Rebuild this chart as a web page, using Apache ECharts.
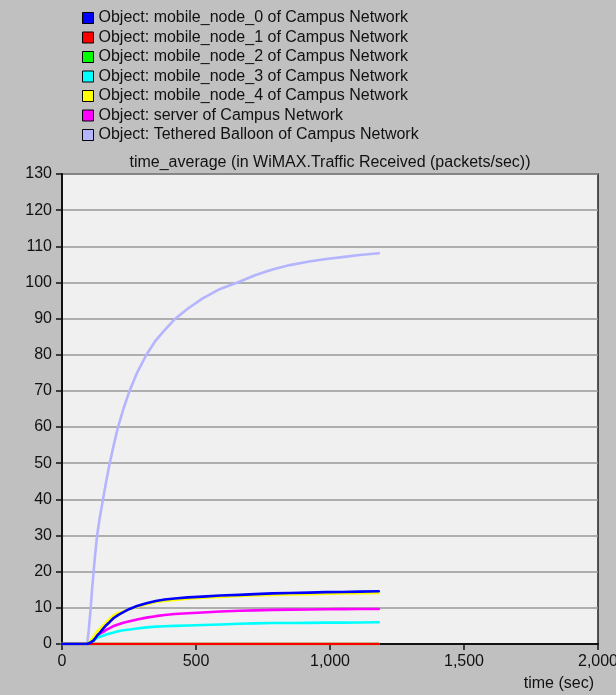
<!DOCTYPE html>
<html>
<head>
<meta charset="utf-8">
<script src="https://cdn.jsdelivr.net/npm/echarts@6/dist/echarts.min.js"></script>
<style>
html,body{margin:0;padding:0;background:#c0c0c0;}
#chart{width:616px;height:695px;}
</style>
</head>
<body>
<div id="chart"></div>
<script>
var seriesNames = [
  'Object: mobile_node_0 of Campus Network',
  'Object: mobile_node_1 of Campus Network',
  'Object: mobile_node_2 of Campus Network',
  'Object: mobile_node_3 of Campus Network',
  'Object: mobile_node_4 of Campus Network',
  'Object: server of Campus Network',
  'Object: Tethered Balloon of Campus Network'
];
var seriesColors = ['#0000ff', '#ff0000', '#00ff00', '#00ffff', '#ffff00', '#ff00ff', '#b4b4ff'];
var times   = [0, 94, 100, 107, 112, 118, 124, 131, 141, 153, 165, 178, 193, 209, 229, 252, 280, 315, 350, 383, 420, 470, 525, 590, 662, 720, 785, 850, 922, 985, 1046, 1110, 1182];
var node0   = [0, 0, 0.1, 0.4, 0.7, 1.0, 1.6, 2.3, 3.1, 4.2, 5.2, 6.1, 7.2, 8.0, 8.8, 9.7, 10.5, 11.3, 11.9, 12.3, 12.6, 12.9, 13.1, 13.4, 13.6, 13.8, 14.0, 14.1, 14.2, 14.35, 14.4, 14.5, 14.6];
var node1   = [0, 0, 0, 0, 0, 0, 0, 0, 0, 0, 0, 0, 0, 0, 0, 0, 0, 0, 0, 0, 0, 0, 0, 0, 0, 0, 0, 0, 0, 0, 0, 0, 0];
var node2   = [0, 0, 0, 0, 0, 0, 0, 0, 0, 0, 0, 0, 0, 0, 0, 0, 0, 0, 0, 0, 0, 0, 0, 0, 0, 0, 0, 0, 0, 0, 0, 0, 0];
var node3   = [0, 0, 0.3, 0.5, 0.7, 0.9, 1.3, 1.7, 2.0, 2.3, 2.6, 2.9, 3.2, 3.5, 3.8, 4.0, 4.3, 4.6, 4.8, 4.9, 5.0, 5.1, 5.25, 5.4, 5.6, 5.7, 5.8, 5.8, 5.85, 5.9, 5.9, 5.95, 6.0];
var node4   = [0, 0, 0.5, 1.1, 1.5, 2.0, 2.7, 3.4, 4.2, 5.1, 6.0, 6.9, 7.9, 8.6, 9.0, 9.6, 10.3, 11.0, 11.6, 11.9, 12.2, 12.5, 12.8, 13.0, 13.3, 13.4, 13.6, 13.7, 13.8, 13.9, 14.0, 14.05, 14.1];
var server  = [0, 0, 0.4, 0.8, 1.1, 1.4, 1.9, 2.4, 2.9, 3.3, 3.9, 4.4, 5.0, 5.4, 5.9, 6.3, 6.8, 7.3, 7.7, 8.0, 8.3, 8.5, 8.7, 9.0, 9.2, 9.3, 9.45, 9.5, 9.55, 9.6, 9.65, 9.7, 9.7];
var balloon = [0, 0, 4, 10, 15, 20, 25, 30, 35, 40, 45, 50, 55, 60, 65, 70, 75, 80, 84, 86.8, 89.8, 92.8, 95.6, 98.2, 100.2, 102, 103.6, 104.8, 105.8, 106.5, 107.0, 107.6, 108.1];
var allValues = [node0, node1, node2, node3, node4, server, balloon];
var yTicks = [0, 10, 20, 30, 40, 50, 60, 70, 80, 90, 100, 110, 120, 130];
var xTicks = [0, 500, 1000, 1500, 2000];
var titleText = 'time_average (in WiMAX.Traffic Received (packets/sec))';
var xAxisTitle = 'time (sec)';

var FONT = '"Liberation Sans", Arial, sans-serif';
var chart = echarts.init(document.getElementById('chart'));
var series = allValues.map(function (vals, i) {
  return {
    name: seriesNames[i],
    type: 'line',
    data: times.map(function (t, k) { return [t, vals[k]]; }),
    showSymbol: false,
    smooth: false,
    z: 20 - i,
    color: seriesColors[i],
    lineStyle: { width: 2.6, color: seriesColors[i], join: 'round', cap: 'round' },
    animation: false
  };
});

chart.setOption({
  backgroundColor: '#c0c0c0',
  animation: false,
  legend: {
    orient: 'vertical',
    left: 77,
    top: 5,
    icon: 'rect',
    itemWidth: 11,
    itemHeight: 11,
    itemGap: 3.5,
    itemStyle: { borderColor: '#000', borderWidth: 1 },
    textStyle: { fontFamily: FONT, fontSize: 16, color: '#111', lineHeight: 16 },
    selectedMode: false,
    data: seriesNames
  },
  grid: {
    left: 62, right: 18, top: 174, bottom: 51,
    outerBoundsMode: 'none',
    containLabel: false,
    show: true, backgroundColor: '#f0f0f0', borderColor: '#222', borderWidth: 1.5
  },
  xAxis: {
    type: 'value', min: xTicks[0], max: xTicks[xTicks.length - 1], interval: 500,
    axisLine: { lineStyle: { color: '#111', width: 2 } },
    axisTick: { show: true, length: 6, lineStyle: { color: '#111', width: 1.5 } },
    axisLabel: {
      margin: 10, fontFamily: FONT, fontSize: 16, color: '#111',
      formatter: function (v) { return v.toLocaleString('en-US'); }
    },
    splitLine: { show: false }
  },
  yAxis: {
    type: 'value', min: yTicks[0], max: yTicks[yTicks.length - 1], interval: 10,
    axisLine: { show: true, lineStyle: { color: '#111', width: 2 } },
    axisTick: { show: true, length: 6, lineStyle: { color: '#111', width: 1.5 } },
    axisLabel: { margin: 10, fontFamily: FONT, fontSize: 16, color: '#111' },
    splitLine: { show: true, lineStyle: { color: '#999', width: 1.5 } }
  },
  graphic: [
    { type: 'text', x: 330, y: 163, style: { text: titleText, font: '16px ' + FONT, fill: '#111', textAlign: 'center', textVerticalAlign: 'middle' } },
    { type: 'text', x: 594, y: 684, style: { text: xAxisTitle, font: '16px ' + FONT, fill: '#111', textAlign: 'right', textVerticalAlign: 'middle' } }
  ],
  series: series
});
</script>
</body>
</html>
